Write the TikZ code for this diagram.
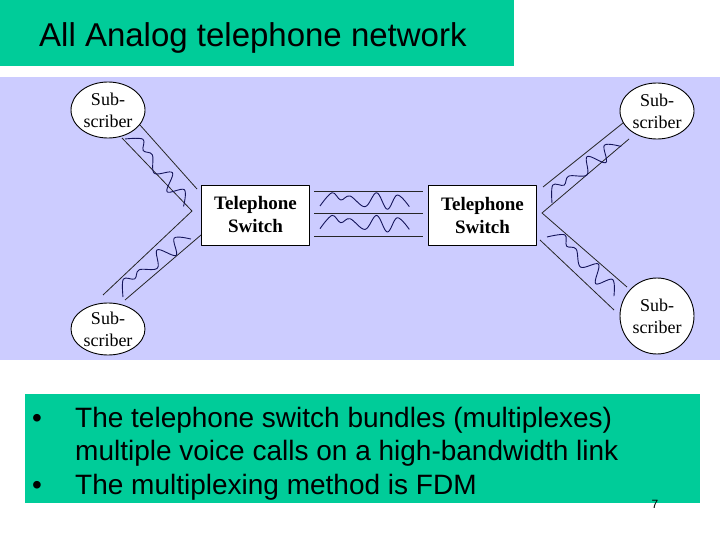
\documentclass[tikz,border=0pt]{standalone}
\usepackage{fontspec}
\setmainfont{Liberation Serif}
\newfontfamily\arialf{Liberation Sans}
\usetikzlibrary{shapes.geometric}
\definecolor{slidegreen}{RGB}{0,204,153}
\definecolor{lav}{RGB}{204,204,255}
\definecolor{wavecol}{RGB}{20,20,90}
\newcommand{\drawwave}[2]{\draw[wave, shift={(#1)}, rotate=#2] plot[smooth, tension=0.6] coordinates {(0,0) (12,13.3) (20.7,6) (30,10) (45,-0.7) (56.7,13.3) (67.3,-3.3) (77.3,11) (89.3,-0.7)};}
\begin{document}
\begin{tikzpicture}[x=1pt,y=1pt, line join=round,
  sub/.style={ellipse, draw=black, fill=white, line width=0.9pt, minimum width=74pt, minimum height=56pt, inner sep=0pt, align=center, font=\fontsize{18}{22}\selectfont},
  switchbox/.style={rectangle, draw=black, fill=white, line width=0.9pt, minimum width=108pt, minimum height=60pt, inner sep=0pt, align=center, font=\bfseries\fontsize{19}{23}\selectfont},
  chan/.style={draw=black!85, line width=0.8pt},
  wave/.style={draw=wavecol, line width=0.9pt},
  bul/.style={anchor=base west, inner sep=0pt, font=\arialf\fontsize{28}{34}\selectfont},
  ]
\useasboundingbox (0,-540) rectangle (720,0);
\fill[white] (0,-540) rectangle (720,0);
% title band
\fill[slidegreen] (0,0) rectangle (514,-66);
\node[anchor=base west, inner sep=0pt, font=\arialf\fontsize{33}{36}\selectfont] (title) at (39,-47) {All Analog telephone network};
% diagram background
\fill[lav] (0,-77) rectangle (720,-360);

% channel coordinates
\coordinate (tlu1) at (140,-125);
\coordinate (tlu2) at (197,-189);
\coordinate (tll1) at (122,-138);
\coordinate (lv) at (192,-211);
\coordinate (blu1) at (103,-295);
\coordinate (bll2) at (201,-235);
\coordinate (bll1) at (125,-300);
\coordinate (tru1) at (623,-123);
\coordinate (tru2) at (543,-187);
\coordinate (trl1) at (629,-139);
\coordinate (rv) at (542,-213);
\coordinate (bru1) at (627,-287);
\coordinate (brl2) at (540,-240);
\coordinate (brl1) at (614,-310);

% channel lines
\draw[chan] (tlu1) -- (tlu2);
\draw[chan] (tll1) -- (lv) -- (blu1);
\draw[chan] (bll2) -- (bll1);
\draw[chan] (tru1) -- (tru2);
\draw[chan] (trl1) -- (rv) -- (bru1);
\draw[chan] (brl2) -- (brl1);

% subscriber nodes
\node[sub] (s1) at (108,-110) {Sub-\\scriber};
\node[sub] (s2) at (657,-111) {Sub-\\scriber};
\node[sub, minimum height=52pt] (s3) at (108,-329) {Sub-\\scriber};
\node[sub, minimum height=76pt] (s4) at (657,-316) {Sub-\\scriber};

% switches
\node[switchbox] (sw1) at (255.5,-215) {Telephone\\Switch};
\node[switchbox] (sw2) at (482.5,-215.5) {Telephone\\Switch};

% trunk lines
\coordinate (t1a) at (314,-191); \coordinate (t1b) at (423,-191);
\coordinate (t2a) at (314,-213); \coordinate (t2b) at (423,-213);
\coordinate (t3a) at (314,-236); \coordinate (t3b) at (423,-236);
\draw[chan] (t1a) -- (t1b);
\draw[chan] (t2a) -- (t2b);
\draw[chan] (t3a) -- (t3b);

% waves
\drawwave{320,-206}{0}
\drawwave{320,-228.7}{0}
\drawwave{125,-139}{-48.6}
\drawwave{123,-297}{40.9}
\drawwave{552,-203}{39.7}
\drawwave{547,-237}{-41}

% bullet box
\fill[slidegreen] (25,-394) rectangle (700,-503);
\node[bul] (b1) at (32,-427) {\textbullet};
\node[bul] (l1) at (75,-427) {The telephone switch bundles (multiplexes)};
\node[bul] (l2) at (75,-460.5) {multiple voice calls on a high-bandwidth link};
\node[bul] (b2) at (32,-494) {\textbullet};
\node[bul] (l3) at (75,-494) {The multiplexing method is FDM};
\node[inner sep=0pt, font=\arialf\fontsize{12}{12}\selectfont] (pg) at (655,-504) {7};
\end{tikzpicture}
\end{document}
